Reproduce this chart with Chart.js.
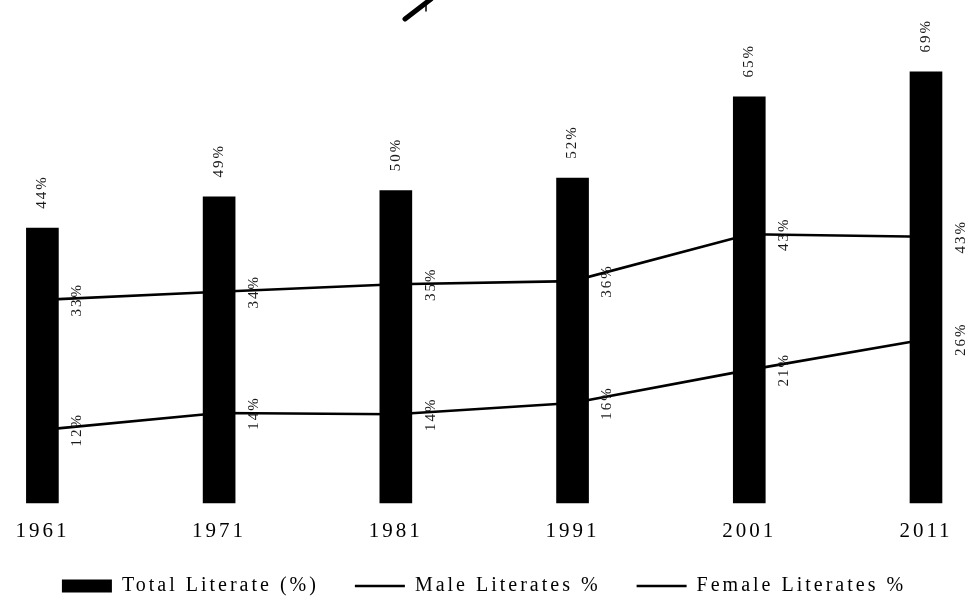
<!DOCTYPE html>
<html>
<head>
<meta charset="utf-8">
<script src="https://cdn.jsdelivr.net/npm/chart.js@4"></script>
<style>
  html, body { margin: 0; padding: 0; background: #fff; }
  #wrap { width: 968px; height: 599px; position: relative; }
</style>
</head>
<body>
<div id="wrap"><canvas id="c"></canvas></div>
<script>
// Census years
const years = ['1961', '1971', '1981', '1991', '2001', '2011'];
// Literacy series (%)
const totalLiterate = [44, 49, 50, 52, 65, 69];
const maleLiterates = [32.5, 33.8, 35.0, 35.5, 43.0, 42.6];
const femaleLiterates = [11.7, 14.4, 14.2, 16.0, 21.3, 26.2];
// Series names
const seriesNames = ['Total Literate (%)', 'Male Literates %', 'Female Literates %'];

const SERIF = '"Liberation Serif", "Times New Roman", serif';
const LEGEND_HEIGHT = 59;
const X_AXIS_HEIGHT = 37;

// Wide tracking for axis and legend text; compact legend box height
const spacedText = {
  id: 'spacedText',
  beforeLayout(chart) {
    chart.ctx.letterSpacing = '3px';
    const lg = chart.legend;
    if (lg && !lg._compact) {
      const fit = lg.fit;
      lg.fit = function () {
        fit.call(this);
        this.height = LEGEND_HEIGHT;
      };
      lg._compact = true;
    }
  },
  afterLayout(chart) { chart.ctx.letterSpacing = '0px'; },
  beforeDraw(chart) { chart.ctx.letterSpacing = '3px'; },
  beforeDatasetsDraw(chart) { chart.ctx.letterSpacing = '0px'; }
};

// Vertical percentage labels: above the bars, to the right of the line points
const valueLabels = {
  id: 'valueLabels',
  afterDatasetsDraw(chart) {
    const ctx = chart.ctx;
    ctx.save();
    ctx.font = '15px ' + SERIF;
    ctx.letterSpacing = '2px';
    ctx.fillStyle = '#1a1a1a';
    ctx.textAlign = 'center';
    ctx.textBaseline = 'middle';
    chart.data.datasets.forEach((ds, di) => {
      const meta = chart.getDatasetMeta(di);
      meta.data.forEach((el, i) => {
        const txt = Math.round(ds.data[i]) + '%';
        let x, y;
        if (ds.type === 'bar') { x = el.x; y = el.y - 36; }
        else { x = el.x + 35; y = el.y; }
        ctx.save();
        ctx.translate(x, y);
        ctx.rotate(-Math.PI / 2);
        ctx.fillText(txt, 0, 0);
        ctx.restore();
      });
    });
    ctx.restore();
  }
};

// Pen stroke at the top edge
const penMark = {
  id: 'penMark',
  afterDraw(chart) {
    const ctx = chart.ctx;
    ctx.save();
    ctx.strokeStyle = '#000';
    ctx.lineCap = 'round';
    ctx.lineWidth = 5;
    ctx.beginPath();
    ctx.moveTo(405, 19);
    ctx.lineTo(431, -1);
    ctx.stroke();
    ctx.lineWidth = 1.5;
    ctx.beginPath();
    ctx.moveTo(426, 3);
    ctx.lineTo(426, 11);
    ctx.stroke();
    ctx.restore();
  }
};

// Blank side axes that reserve the margins around the plot
const sideAxis = (position, width) => ({
  position,
  display: true,
  min: 0,
  max: 80,
  grid: { display: false, drawTicks: false },
  border: { display: false },
  ticks: { display: false },
  afterFit(scale) { scale.width = width; }
});

new Chart(document.getElementById('c'), {
  type: 'bar',
  data: {
    labels: years,
    datasets: [
      {
        type: 'bar',
        label: seriesNames[0],
        data: totalLiterate,
        backgroundColor: '#000',
        borderWidth: 0,
        barThickness: 32,
        clip: false,
        order: 1
      },
      {
        type: 'line',
        label: seriesNames[1],
        data: maleLiterates,
        borderColor: '#000',
        backgroundColor: '#000',
        borderWidth: 2.6,
        pointRadius: 0,
        tension: 0,
        clip: false,
        order: 2
      },
      {
        type: 'line',
        label: seriesNames[2],
        data: femaleLiterates,
        borderColor: '#000',
        backgroundColor: '#000',
        borderWidth: 2.6,
        pointRadius: 0,
        tension: 0,
        clip: false,
        order: 3
      }
    ]
  },
  options: {
    responsive: true,
    maintainAspectRatio: false,
    animation: false,
    layout: { padding: { left: 0, right: 0, top: 3, bottom: 0 } },
    scales: {
      x: {
        offset: false,
        grid: { display: false, drawTicks: false, offset: false },
        border: { display: false },
        ticks: {
          color: '#000',
          font: { family: SERIF, size: 21 },
          padding: 15.4,
          maxRotation: 0,
          autoSkip: false
        },
        afterFit(scale) { scale.height = X_AXIS_HEIGHT; }
      },
      y: sideAxis('left', 40),
      yRight: sideAxis('right', 38)
    },
    plugins: {
      tooltip: { enabled: false },
      legend: {
        position: 'bottom',
        labels: {
          color: '#000',
          font: { family: SERIF, size: 20 },
          usePointStyle: true,
          pointStyleWidth: 50,
          boxHeight: 13,
          padding: 36,
          generateLabels(chart) {
            const items = Chart.defaults.plugins.legend.labels.generateLabels(chart);
            items.forEach((it, i) => {
              it.pointStyle = i === 0 ? 'rect' : 'line';
              it.fillStyle = '#000';
              it.strokeStyle = '#000';
              it.lineWidth = i === 0 ? 0 : 2.6;
            });
            return items;
          }
        }
      }
    }
  },
  plugins: [spacedText, valueLabels, penMark]
});
</script>
</body>
</html>
